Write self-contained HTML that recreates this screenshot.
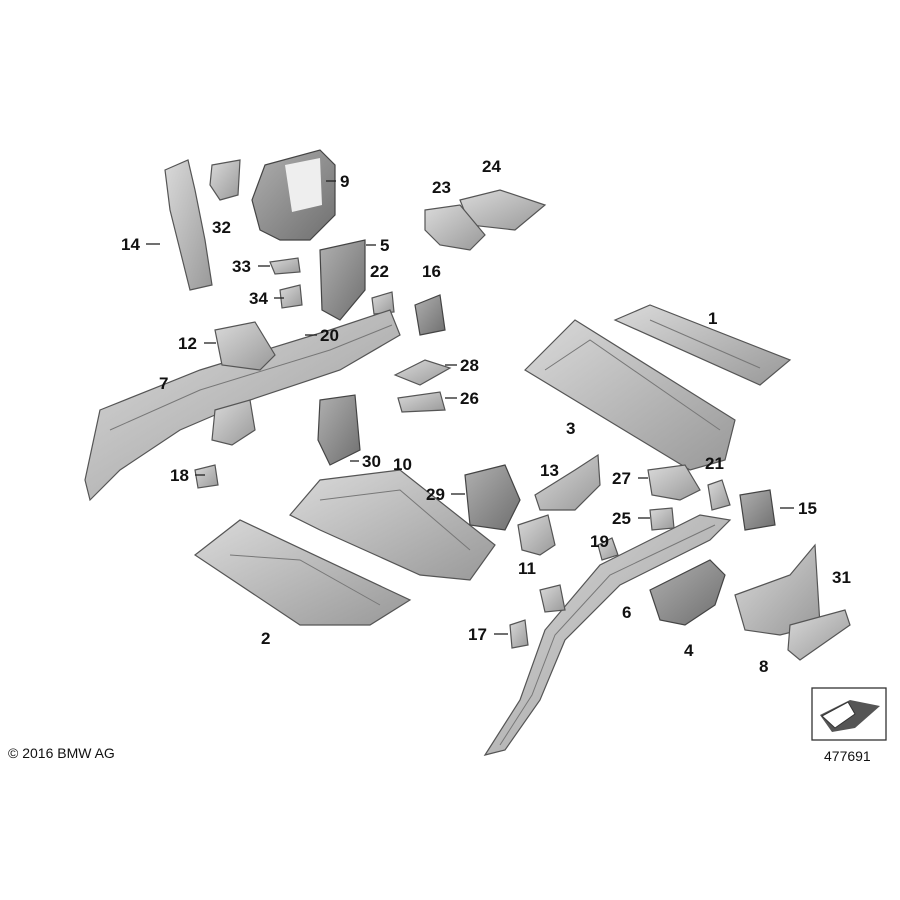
<!DOCTYPE html>
<html><head><meta charset="utf-8"><style>
body{margin:0;background:#fff;}
svg{display:block}
text{font-family:"Liberation Sans",sans-serif;font-weight:bold;font-size:17px;fill:#111;}
.p{fill:url(#g);stroke:#555;stroke-width:1.2}
.d{fill:url(#g2);stroke:#444;stroke-width:1.2}
.l{stroke:#222;stroke-width:1.3}
.i{fill:none;stroke:#777;stroke-width:1}
</style></head><body>
<svg width="900" height="900" viewBox="0 0 900 900">
<defs>
<linearGradient id="g" x1="0" y1="0" x2="1" y2="1"><stop offset="0" stop-color="#dadada"/><stop offset="1" stop-color="#999"/></linearGradient>
<linearGradient id="g2" x1="0" y1="0" x2="1" y2="1"><stop offset="0" stop-color="#b0b0b0"/><stop offset="1" stop-color="#6f6f6f"/></linearGradient>
</defs>
<polygon class="p" points="165,170 188,160 195,190 205,240 212,285 190,290 180,250 170,210"/>
<polygon class="p" points="212,165 240,160 238,195 220,200 210,185"/>
<polygon class="d" points="265,165 320,150 335,165 335,215 310,240 280,240 260,230 252,200"/>
<polygon fill="#eee" points="285,165 320,158 322,205 292,212"/>
<polygon class="p" points="460,200 500,190 545,205 515,230 470,225"/>
<polygon class="p" points="425,210 460,205 485,235 470,250 440,245 425,230"/>
<polygon class="d" points="320,250 365,240 365,290 340,320 322,310"/>
<polygon class="p" points="270,262 298,258 300,272 275,274"/>
<polygon class="p" points="280,290 300,285 302,305 282,308"/>
<polygon class="p" points="372,298 392,292 394,312 374,314"/>
<polygon class="d" points="415,305 440,295 445,330 420,335"/>
<polygon class="p" points="100,410 200,370 330,330 390,310 400,335 340,370 250,400 180,430 120,470 90,500 85,480"/>
<polyline class="i" points="110,430 200,390 330,350 392,325"/>
<polygon class="p" points="215,330 255,322 275,355 260,370 222,365"/>
<polygon class="p" points="195,470 215,465 218,485 198,488"/>
<polygon class="p" points="215,410 250,400 255,430 232,445 212,440"/>
<polygon class="p" points="395,375 425,360 450,368 420,385"/>
<polygon class="p" points="398,398 440,392 445,410 402,412"/>
<polygon class="d" points="320,400 355,395 360,450 330,465 318,440"/>
<polygon class="p" points="615,320 650,305 790,360 760,385"/>
<polyline class="i" points="650,320 760,368"/>
<polygon class="p" points="525,370 575,320 735,420 725,460 690,470"/>
<polyline class="i" points="545,370 590,340 720,430"/>
<polygon class="p" points="290,515 320,480 400,470 495,545 470,580 420,575 320,530"/>
<polyline class="i" points="320,500 400,490 470,550"/>
<polygon class="p" points="195,555 240,520 410,600 370,625 300,625"/>
<polyline class="i" points="230,555 300,560 380,605"/>
<polygon class="d" points="465,475 505,465 520,500 505,530 470,525"/>
<polygon class="p" points="535,495 575,470 598,455 600,485 575,510 540,510"/>
<polygon class="p" points="518,525 548,515 555,545 540,555 522,550"/>
<polygon class="p" points="648,470 685,465 700,490 680,500 652,495"/>
<polygon class="p" points="708,485 722,480 730,505 712,510"/>
<polygon class="d" points="740,495 770,490 775,525 745,530"/>
<polygon class="p" points="650,510 672,508 674,528 652,530"/>
<polygon class="p" points="485,755 520,700 545,630 600,565 700,515 730,520 710,540 620,585 565,640 540,700 505,750"/>
<polyline class="i" points="500,745 532,695 555,635 610,575 715,525"/>
<polygon class="p" points="598,545 612,538 618,555 602,560"/>
<polygon class="p" points="510,625 525,620 528,645 512,648"/>
<polygon class="p" points="540,590 560,585 565,610 545,612"/>
<polygon class="d" points="650,590 710,560 725,575 715,605 685,625 660,620"/>
<polygon class="p" points="735,595 790,575 815,545 820,625 780,635 745,630"/>
<polygon class="p" points="790,625 845,610 850,625 800,660 788,650"/>
<g>
<text x="340" y="187">9</text><line class="l" x1="326" y1="181" x2="336" y2="181"/>
<text x="482" y="172">24</text>
<text x="432" y="193">23</text>
<text x="212" y="233">32</text>
<text x="121" y="250">14</text><line class="l" x1="146" y1="244" x2="160" y2="244"/>
<text x="380" y="251">5</text><line class="l" x1="366" y1="245" x2="376" y2="245"/>
<text x="232" y="272">33</text><line class="l" x1="258" y1="266" x2="270" y2="266"/>
<text x="370" y="277">22</text>
<text x="422" y="277">16</text>
<text x="249" y="304">34</text><line class="l" x1="274" y1="298" x2="284" y2="298"/>
<text x="708" y="324">1</text>
<text x="320" y="341">20</text><line class="l" x1="305" y1="335" x2="317" y2="335"/>
<text x="178" y="349">12</text><line class="l" x1="204" y1="343" x2="216" y2="343"/>
<text x="460" y="371">28</text><line class="l" x1="445" y1="365" x2="457" y2="365"/>
<text x="159" y="389">7</text>
<text x="460" y="404">26</text><line class="l" x1="445" y1="398" x2="457" y2="398"/>
<text x="566" y="434">3</text>
<text x="362" y="467">30</text><line class="l" x1="350" y1="461" x2="359" y2="461"/>
<text x="393" y="470">10</text>
<text x="540" y="476">13</text>
<text x="612" y="484">27</text><line class="l" x1="638" y1="478" x2="648" y2="478"/>
<text x="705" y="469">21</text>
<text x="170" y="481">18</text><line class="l" x1="195" y1="475" x2="205" y2="475"/>
<text x="426" y="500">29</text><line class="l" x1="451" y1="494" x2="465" y2="494"/>
<text x="798" y="514">15</text><line class="l" x1="780" y1="508" x2="794" y2="508"/>
<text x="612" y="524">25</text><line class="l" x1="638" y1="518" x2="650" y2="518"/>
<text x="590" y="547">19</text>
<text x="518" y="574">11</text>
<text x="622" y="618">6</text>
<text x="261" y="644">2</text>
<text x="468" y="640">17</text><line class="l" x1="494" y1="634" x2="508" y2="634"/>
<text x="684" y="656">4</text>
<text x="832" y="583">31</text>
<text x="759" y="672">8</text>
</g>
<rect x="812" y="688" width="74" height="52" fill="#fff" stroke="#333" stroke-width="1.3"/>
<polygon points="820,715 850,700 880,706 855,728 832,732" fill="#555"/>
<polygon points="822,716 848,702 855,714 835,728" fill="#fff" stroke="#333"/>
<text x="824" y="761" style="font-weight:normal;font-size:14px">477691</text>
<text x="8" y="758" style="font-weight:normal;font-size:14px">© 2016 BMW AG</text>
</svg>
</body></html>
